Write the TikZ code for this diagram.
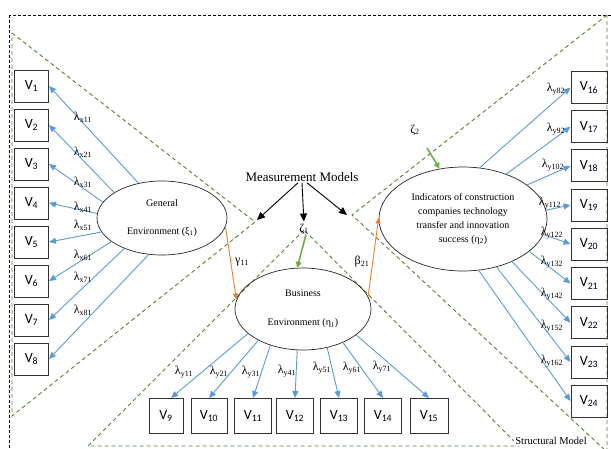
\documentclass[tikz,border=0pt]{standalone}
\usepackage{fontspec}
\setmainfont{Liberation Serif}
\newfontfamily\calibri{Carlito}
\usetikzlibrary{arrows.meta}
\usetikzlibrary{shapes.geometric}

\definecolor{loadblue}{RGB}{91,155,213}
\definecolor{pathorange}{RGB}{237,125,49}
\definecolor{errgreen}{RGB}{112,173,71}
\definecolor{regiongreen}{RGB}{84,130,53}

\begin{document}
\begin{tikzpicture}[x=1pt, y=-1pt,
    indbox/.style={draw=black!80, line width=1pt, inner sep=0pt, minimum width=34pt, minimum height=32pt, font=\calibri\fontsize{14}{14}\selectfont},
    latent/.style={ellipse, draw=black!85, line width=0.7pt, inner sep=0pt, align=center},
    load/.style={draw=loadblue, line width=0.9pt, -{Triangle[length=7pt,width=6pt]}},
    structpath/.style={draw=pathorange, line width=0.9pt, -{Triangle[length=6pt,width=5pt]}},
    errpath/.style={draw=errgreen, line width=1.6pt, -{Triangle[length=6pt,width=6pt]}},
    mmpath/.style={draw=black, line width=0.9pt, -{Triangle[length=8pt,width=7pt]}},
    region/.style={draw=regiongreen, line width=0.9pt, dash pattern=on 4pt off 3pt},
    lab/.style={inner sep=0pt, font=\fontsize{12}{12}\selectfont}]

    \useasboundingbox (0,0) rectangle (611,448);

    % model regions
    \draw[black, line width=0.8pt, dash pattern=on 3pt off 2pt] (9,15) rectangle (625,470);
    \draw[region] (12,33) -- (255,222) -- (12,416) -- cycle;
    \draw[region] (607,15) -- (352,215) -- (607,452) -- cycle;
    \draw[region] (304,230) -- (88,446) -- (519,446) -- cycle;
    \node[fill=white, inner sep=1pt, font=\fontsize{10.5}{10.5}\selectfont] (sm) at (551,441) {Structural Model};

    % latent variables
    \node[latent, minimum width=130pt, minimum height=74pt, font=\fontsize{10}{28}\selectfont] (xi) at (162,218) {General\\Environment (ξ\textsubscript{1})};
    \node[latent, minimum width=136pt, minimum height=82pt, font=\fontsize{10}{29}\selectfont] (eta1) at (303,309) {Business\\Environment (η\textsubscript{1})};
    \node[latent, minimum width=168pt, minimum height=104pt, font=\fontsize{10}{13.7}\selectfont] (eta2) at (463,219) {Indicators of construction\\companies technology\\transfer and innovation\\success (η\textsubscript{2})};

    % indicators of xi
    \node[indbox] (v1) at (31.5,86) {V\textsubscript{1}};
    \node[indbox] (v2) at (31.5,125) {V\textsubscript{2}};
    \node[indbox] (v3) at (31.5,164) {V\textsubscript{3}};
    \node[indbox] (v4) at (31.5,203) {V\textsubscript{4}};
    \node[indbox] (v5) at (31.5,242) {V\textsubscript{5}};
    \node[indbox] (v6) at (31.5,281) {V\textsubscript{6}};
    \node[indbox] (v7) at (31.5,320) {V\textsubscript{7}};
    \node[indbox] (v8) at (31.5,359) {V\textsubscript{8}};

    % indicators of eta1
    \node[indbox, minimum height=35pt] (v9) at (166,416) {V\textsubscript{9}};
    \node[indbox, minimum height=35pt, minimum width=36pt] (v10) at (209,416) {V\textsubscript{10}};
    \node[indbox, minimum height=35pt, minimum width=37pt] (v11) at (253,416) {V\textsubscript{11}};
    \node[indbox, minimum height=35pt, minimum width=37pt] (v12) at (295,416) {V\textsubscript{12}};
    \node[indbox, minimum height=35pt, minimum width=37pt] (v13) at (339,416) {V\textsubscript{13}};
    \node[indbox, minimum height=35pt, minimum width=37pt] (v14) at (383,416) {V\textsubscript{14}};
    \node[indbox, minimum height=35pt, minimum width=38pt] (v15) at (429,416) {V\textsubscript{15}};

    % indicators of eta2
    \node[indbox, minimum width=36pt] (v16) at (589,87.5) {V\textsubscript{16}};
    \node[indbox, minimum width=36pt] (v17) at (589,126.7) {V\textsubscript{17}};
    \node[indbox, minimum width=36pt] (v18) at (589,165.9) {V\textsubscript{18}};
    \node[indbox, minimum width=36pt] (v19) at (589,205) {V\textsubscript{19}};
    \node[indbox, minimum width=36pt] (v20) at (589,244) {V\textsubscript{20}};
    \node[indbox, minimum width=36pt] (v21) at (589,283.5) {V\textsubscript{21}};
    \node[indbox, minimum width=36pt] (v22) at (589,322.7) {V\textsubscript{22}};
    \node[indbox, minimum width=36pt] (v23) at (589,362) {V\textsubscript{23}};
    \node[indbox, minimum width=36pt] (v24) at (589,401) {V\textsubscript{24}};

    % loadings of xi
    \draw[load] (xi.124) -- (v1.east);
    \draw[load] (xi.152) -- (v2.east);
    \draw[load] (xi.165) -- (v3.east);
    \draw[load] (xi.176) -- (v4.east);
    \draw[load] (xi.193) -- (v5.east);
    \draw[load] (xi.205) -- (v6.east);
    \draw[load] (xi.219) -- (v7.east);
    \draw[load] (xi.250) -- (v8.east);
    \node[lab] (lx11) at (83,117) {λ\textsubscript{x11}};
    \node[lab] (lx21) at (83,152) {λ\textsubscript{x21}};
    \node[lab] (lx31) at (83,182) {λ\textsubscript{x31}};
    \node[lab] (lx41) at (83,207) {λ\textsubscript{x41}};
    \node[lab] (lx51) at (83,225) {λ\textsubscript{x51}};
    \node[lab] (lx61) at (83,255) {λ\textsubscript{x61}};
    \node[lab] (lx71) at (83,277) {λ\textsubscript{x71}};
    \node[lab] (lx81) at (83,310) {λ\textsubscript{x81}};

    % loadings of eta1
    \draw[load] (eta1.204) -- ([xshift=5pt]v9.north);
    \draw[load] (eta1.215) -- (v10.north);
    \draw[load] (eta1.228) -- (v11.north);
    \draw[load] (eta1.262) -- (v12.north);
    \draw[load] (eta1.302) -- (v13.north);
    \draw[load] (eta1.320) -- (v14.north);
    \draw[load] (eta1.334) -- (v15.north);
    \node[lab] (ly11) at (184,372) {λ\textsubscript{y11}};
    \node[lab] (ly21) at (219,372) {λ\textsubscript{y21}};
    \node[lab] (ly31) at (251,372) {λ\textsubscript{y31}};
    \node[lab] (ly41) at (287,371) {λ\textsubscript{y41}};
    \node[lab] (ly51) at (322,368) {λ\textsubscript{y51}};
    \node[lab] (ly61) at (352,368) {λ\textsubscript{y61}};
    \node[lab] (ly71) at (382,367) {λ\textsubscript{y71}};

    % loadings of eta2
    \draw[load] (eta2.72) -- (v16.west);
    \draw[load] (eta2.46) -- (v17.west);
    \draw[load] (eta2.28) -- (v18.west);
    \draw[load] (eta2.6) -- (v19.west);
    \draw[load] (eta2.-11) -- (v20.west);
    \draw[load] (eta2.-26) -- (v21.west);
    \draw[load] (eta2.-41) -- (v22.west);
    \draw[load] (eta2.-55) -- (v23.west);
    \draw[load] (eta2.-73) -- (v24.west);
    \node[lab] (ly82) at (556,89) {λ\textsubscript{y82}};
    \node[lab] (ly92) at (556,129) {λ\textsubscript{y92}};
    \node[lab] (ly102) at (553,165) {λ\textsubscript{y102}};
    \node[lab] (ly112) at (550,203) {λ\textsubscript{y112}};
    \node[lab] (ly122) at (552,233) {λ\textsubscript{y122}};
    \node[lab] (ly132) at (552,262) {λ\textsubscript{y132}};
    \node[lab] (ly142) at (552,294) {λ\textsubscript{y142}};
    \node[lab] (ly152) at (552,326) {λ\textsubscript{y152}};
    \node[lab] (ly162) at (552,361) {λ\textsubscript{y162}};

    % structural paths
    \draw[structpath] (xi.-8) -- (eta1.172);
    \draw[structpath] (eta1.11) -- (eta2.179);
    \node[lab] (g11) at (242,262) {γ\textsubscript{11}};
    \node[lab] (b21) at (362,262) {β\textsubscript{21}};

    % disturbances
    \node[lab] (z1) at (304,229) {ζ\textsubscript{1}};
    \node[lab] (z2) at (415,130) {ζ\textsubscript{2}};
    \coordinate (z2tail) at (427,148);
    \draw[errpath] ([xshift=2pt]z1.south) -- (eta1.98);
    \draw[errpath] (z2tail) -- (eta2.115);

    % measurement models
    \node[inner sep=1pt, font=\fontsize{13}{13}\selectfont] (mm) at (302,177) {Measurement Models};
    \coordinate (mmL) at (257,220);
    \coordinate (mmR) at (347,215);
    \draw[mmpath] ([xshift=-4pt]mm.south) -- (mmL);
    \draw[mmpath, shorten >=2pt] (mm.south) -- (z1.north);
    \draw[mmpath] ([xshift=5pt]mm.south) -- (mmR);
\end{tikzpicture}
\end{document}
